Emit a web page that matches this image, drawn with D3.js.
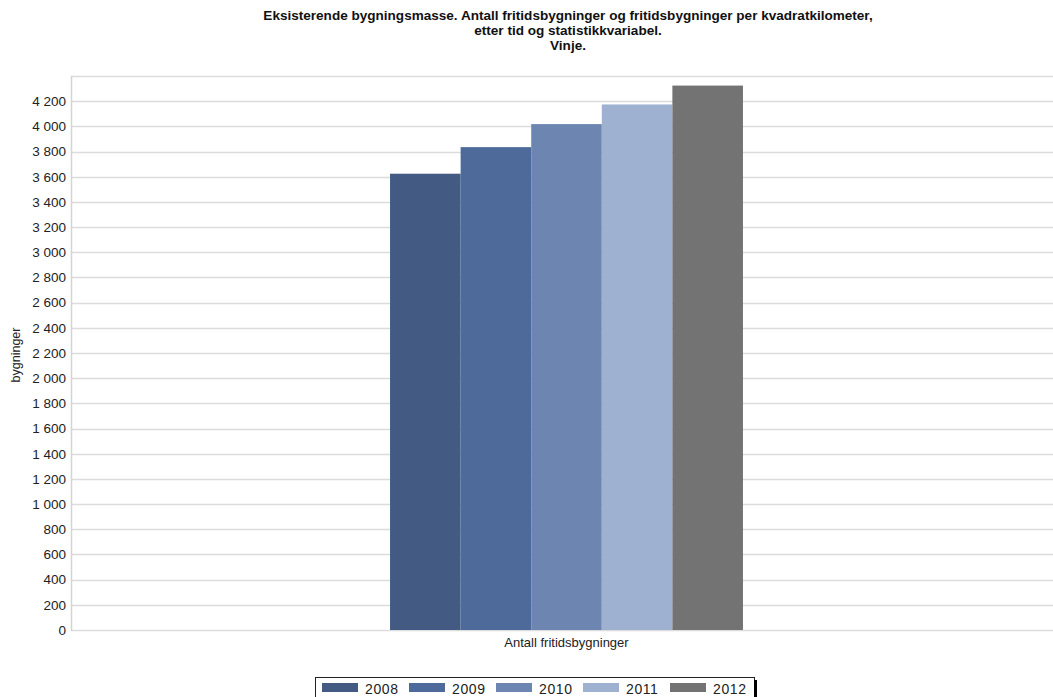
<!DOCTYPE html>
<html>
<head>
<meta charset="utf-8">
<script src="https://cdn.jsdelivr.net/npm/d3@7"></script>
<style>
  html, body { margin: 0; padding: 0; background: #fff; }
  svg { display: block; }
</style>
</head>
<body>
<svg id="chart" width="1053" height="697"></svg>
<script>
// Data
const categories = ["Antall fritidsbygninger"];
const years = ["2008", "2009", "2010", "2011", "2012"];
const values2008 = [3624];
const values2009 = [3835];
const values2010 = [4018];
const values2011 = [4174];
const values2012 = [4324];
const seriesValues = [values2008, values2009, values2010, values2011, values2012];
const yTicks = [0, 200, 400, 600, 800, 1000, 1200, 1400, 1600, 1800, 2000, 2200,
                2400, 2600, 2800, 3000, 3200, 3400, 3600, 3800, 4000, 4200];
const titleLines = [
  "Eksisterende bygningsmasse. Antall fritidsbygninger og fritidsbygninger per kvadratkilometer,",
  "etter tid og statistikkvariabel.",
  "Vinje."
];
const yAxisTitle = "bygninger";

const colors = ["#435a83", "#4d6a9b", "#6c85b1", "#9eb1d1", "#737373"];

const svg = d3.select("#chart");
const font = "Liberation Sans, Arial, sans-serif";

const plot = { left: 71, right: 1062, top: 76, bottom: 630 };

const y = d3.scaleLinear().domain([0, 4400]).range([plot.bottom, plot.top]);
const x0 = d3.scaleBand().domain(categories).range([plot.left, plot.right])
  .paddingInner(0).paddingOuter(0.904);
const x1 = d3.scaleBand().domain(years).range([0, x0.bandwidth()]).padding(0);

// Grid lines
const gridVals = yTicks.concat([4400]);
svg.append("g").selectAll("line").data(gridVals).join("line")
  .attr("x1", plot.left).attr("x2", 1053)
  .attr("y1", d => Math.round(y(d)) + 0.5).attr("y2", d => Math.round(y(d)) + 0.5)
  .attr("stroke", "#dcdcdc").attr("stroke-width", 1.5);

// Left axis line
svg.append("line")
  .attr("x1", plot.left + 0.5).attr("x2", plot.left + 0.5)
  .attr("y1", plot.top).attr("y2", plot.bottom + 1)
  .attr("stroke", "#d4d4d4").attr("stroke-width", 1.5);

// Y axis tick labels (space as thousands separator)
const fmt = v => d3.format(",")(v).replace(/,/g, " ");
const yAxis = d3.axisLeft(y).tickValues(yTicks).tickSize(0).tickPadding(5)
  .tickFormat(fmt);
const gy = svg.append("g").attr("transform", `translate(${plot.left},0)`).call(yAxis);
gy.select(".domain").remove();
gy.selectAll("text").attr("font-family", font).attr("font-size", 13.5)
  .attr("fill", "#222");

// Bars
const groups = svg.append("g").selectAll("g").data(categories).join("g")
  .attr("transform", d => `translate(${x0(d)},0)`);
groups.selectAll("rect")
  .data((d, ci) => years.map((yr, si) => ({ yr, si, v: seriesValues[si][ci] })))
  .join("rect")
  .attr("x", d => x1(d.yr))
  .attr("width", x1.bandwidth())
  .attr("y", d => y(d.v))
  .attr("height", d => y(0) - y(d.v))
  .attr("fill", d => colors[d.si]);

// Category axis label
const xAxis = d3.axisBottom(x0).tickSize(0).tickPadding(8);
const gx = svg.append("g").attr("transform", `translate(0,${plot.bottom})`).call(xAxis);
gx.select(".domain").remove();
gx.selectAll("text").attr("font-family", font).attr("font-size", 13).attr("fill", "#222");

// Title: condensed bold lines, stretched to the heading width
const titleG = svg.append("g");
const titleText = titleG.selectAll("text").data(titleLines).join("text")
  .attr("x", 0).attr("y", (d, i) => 20 + i * 15)
  .attr("text-anchor", "middle")
  .attr("font-family", font).attr("font-weight", "bold").attr("font-size", 13.5)
  .attr("fill", "#111")
  .text(d => d);
const w0 = titleText.nodes()[0].getComputedTextLength();
const sx = 610 / w0;
titleG.attr("transform", `translate(568,0) scale(${sx},1)`);

// Y axis title
svg.append("text")
  .attr("transform", `translate(20,355) rotate(-90)`)
  .attr("text-anchor", "middle")
  .attr("font-family", font).attr("font-size", 12.5).attr("fill", "#222")
  .text(yAxisTitle);

// Legend
const legend = svg.append("g").attr("transform", "translate(315,677)");
legend.append("rect").attr("x", 0.5).attr("y", 0.5).attr("width", 439).attr("height", 24)
  .attr("fill", "#fff").attr("stroke", "#222").attr("stroke-width", 1);
legend.append("rect").attr("x", 439).attr("y", 3).attr("width", 3).attr("height", 22)
  .attr("fill", "#000");
const items = legend.selectAll("g.item").data(years).join("g")
  .attr("class", "item")
  .attr("transform", (d, i) => `translate(${7 + i * 87},6)`);
items.append("rect").attr("width", 36).attr("height", 9)
  .attr("fill", (d, i) => colors[i]);
items.append("text").attr("x", 43).attr("y", 11)
  .attr("font-family", font).attr("font-size", 14).attr("letter-spacing", 0.6)
  .attr("fill", "#222").text(d => d);
</script>
</body>
</html>
